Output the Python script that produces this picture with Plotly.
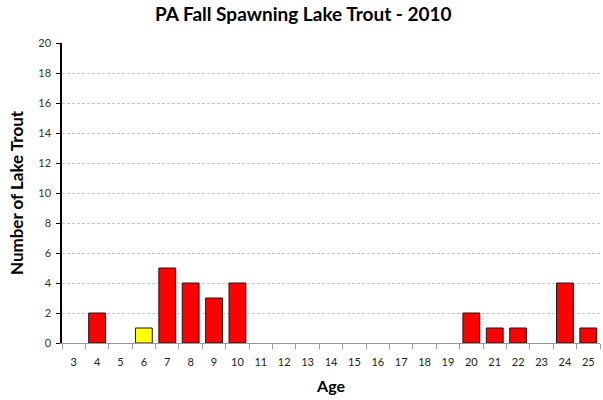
import plotly.graph_objects as go

ages = [str(a) for a in range(3, 26)]
counts = [0, 2, 0, 1, 5, 4, 3, 4, 0, 0, 0, 0, 0, 0, 0, 0, 0, 2, 1, 1, 0, 4, 1]
bar_colors = ["#FF0000"] * len(ages)
bar_colors[ages.index("6")] = "#FFFF00"
edge_widths = [1 if c > 0 else 0 for c in counts]

fig = go.Figure()
fig.add_trace(go.Bar(
    x=ages, y=counts,
    marker=dict(color=bar_colors, line=dict(color="#1a1a1a", width=edge_widths)),
    width=0.72,
))

font = "Lato, 'Open Sans', sans-serif"
fig.update_layout(
    width=603, height=400,
    margin=dict(l=62, r=3, t=43, b=57),
    paper_bgcolor="white", plot_bgcolor="white",
    showlegend=False,
    title=dict(text="<b>PA Fall Spawning Lake Trout - 2010</b>", x=0.503, xanchor="center",
               y=0.963, yanchor="middle", font=dict(family=font, size=19, color="#000")),
    font=dict(family=font, color="#000"),
)
fig.update_xaxes(
    type="category", tickson="boundaries", ticks="outside", ticklen=5, tickcolor="#999",
    showline=True, linecolor="#999", linewidth=1, showgrid=False, automargin=False,
    tickfont=dict(size=11, color="#222"), ticklabelstandoff=9,
    title=dict(text="<b>Age</b>", font=dict(size=16, family=font), standoff=13),
)
fig.update_yaxes(
    range=[0, 20], dtick=2, ticks="outside", ticklen=4, tickcolor="#000",
    showline=True, linecolor="#000", linewidth=1.5, automargin=False,
    showgrid=True, gridcolor="#C8C8C8", griddash="3px,2px", gridwidth=1,
    tickfont=dict(size=11, color="#333"), zeroline=False, ticklabelstandoff=3,
    title=dict(text="<b>Number of Lake Trout</b>", font=dict(size=17, family=font), standoff=10),
)
fig.write_html("out.html", config={"displayModeBar": False},
               post_script="document.body.style.margin='0';")
